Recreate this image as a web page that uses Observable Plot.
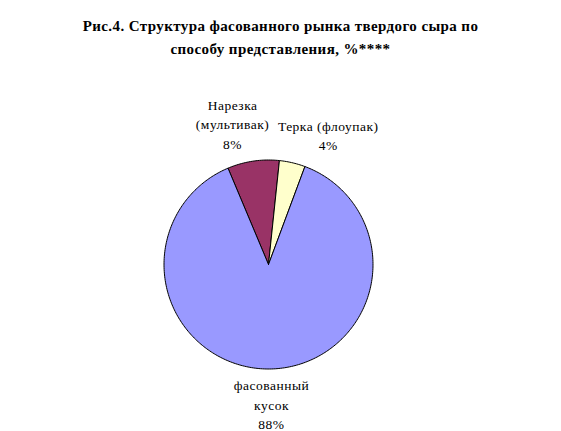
<!DOCTYPE html>
<html><head><meta charset="utf-8">
<script src="https://cdn.jsdelivr.net/npm/d3@7"></script>
<script src="https://cdn.jsdelivr.net/npm/@observablehq/plot@0.6"></script>
<style>body{margin:0}</style></head>
<body>
<div style="font-family:'Liberation Serif';font-size:15px;font-weight:bold;text-align:center;line-height:23px;padding-top:15px;height:55px;letter-spacing:0.4px">Рис.4. Структура фасованного рынка твердого сыра по<br>способу представления, %****</div>
<div id="chart"></div>
<script>
const categories = ["Нарезка (мультивак)", "Терка (флоупак)", "фасованный кусок"];
const labels = ["Нарезка\n(мультивак)\n8%", "Терка (флоупак)\n4%", "фасованный\nкусок\n88%"];
const values = [8, 4, 88];
const colors = ["#993366", "#FFFFCC", "#9999FF"];

const startAngle = -22.8 * Math.PI / 180;
const arcs = d3.pie().sort(null).value(d => d).startAngle(startAngle).endAngle(startAngle + 2 * Math.PI)(values);

const polys = [];
arcs.forEach((a, i) => {
  polys.push({cat: categories[i], x: 0, y: 0});
  const n = Math.max(2, Math.ceil((a.endAngle - a.startAngle) / (Math.PI / 180)));
  for (let k = 0; k <= n; k++) {
    const t = a.startAngle + (a.endAngle - a.startAngle) * k / n;
    polys.push({cat: categories[i], x: Math.sin(t), y: Math.cos(t)});
  }
  polys.push({cat: categories[i], x: 0, y: 0});
});

const labelR = 1.37;
const nudgeX = [-15, 27, 0];
const nudgeY = [0, 9, -4];
const labelData = arcs.map((a, i) => {
  const m = (a.startAngle + a.endAngle) / 2;
  return {cat: categories[i], text: labels[i], x: Math.sin(m) * labelR, y: Math.cos(m) * labelR, dx: nudgeX[i], dy: nudgeY[i]};
});

const cx = 268, cy = 194, r = 104.5;
const chart = Plot.plot({
  width: 561,
  height: 361,
  margin: 0,
  style: {letterSpacing: "0.5px", background: "#fff"},
  x: {domain: [-1, 1], range: [cx - r, cx + r], axis: null},
  y: {domain: [-1, 1], range: [cy + r, cy - r], axis: null},
  color: {domain: categories, range: colors},
  marks: [
    Plot.line(polys, {x: "x", y: "y", z: "cat", fill: "cat", stroke: "#000", strokeWidth: 1, curve: "linear"}),
    ...labelData.map(d => Plot.text([d], {x: "x", y: "y", text: "text", dx: d.dx, dy: d.dy, fontSize: 13.5, lineHeight: 1.45, fill: "#000", textAnchor: "middle", fontFamily: "Liberation Serif"}))
  ]
});
document.getElementById("chart").appendChild(chart);
</script>
</body></html>
